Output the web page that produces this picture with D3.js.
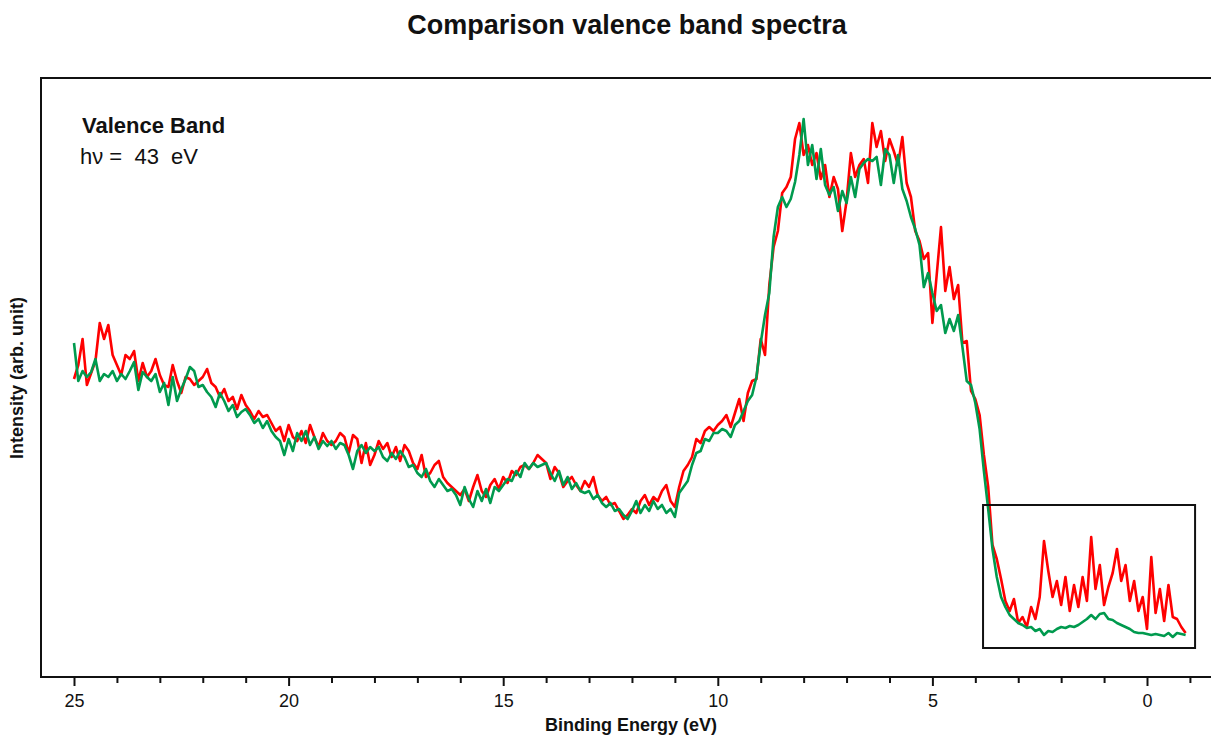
<!DOCTYPE html>
<html>
<head>
<meta charset="utf-8">
<script src="https://cdn.jsdelivr.net/npm/d3@7"></script>
<style>
  html, body { margin: 0; padding: 0; background: #fff; }
  svg { display: block; font-family: "Liberation Sans", Arial, sans-serif; }
</style>
</head>
<body>
<svg id="chart" width="1211" height="736"></svg>
<script>
// Spectra sampled on a uniform binding-energy grid: 25.0 eV downward in 0.1 eV steps
const startEnergy = 25.0;
const energyStep = 0.1;

// Sample A (red)
const redCounts = [
  298, 312, 338, 292, 304, 316, 354, 338, 352, 322,
  312, 302, 322, 318, 326, 296, 314, 300, 306, 318,
  302, 292, 290, 312, 296, 284, 300, 298, 292, 296,
  300, 308, 294, 290, 280, 288, 276, 280, 268, 282,
  272, 266, 258, 266, 260, 262, 254, 246, 250, 236,
  252, 240, 236, 246, 234, 252, 240, 230, 244, 236,
  232, 236, 244, 240, 224, 242, 238, 214, 234, 212,
  222, 236, 228, 234, 220, 230, 216, 232, 226, 214,
  208, 222, 200, 204, 212, 216, 200, 194, 190, 186,
  182, 188, 176, 190, 202, 186, 180, 192, 198, 188,
  200, 194, 206, 202, 210, 212, 208, 214, 222, 218,
  214, 198, 210, 204, 190, 196, 200, 192, 186, 196,
  190, 200, 182, 176, 180, 172, 174, 166, 158, 162,
  168, 164, 176, 182, 172, 180, 176, 186, 192, 176,
  170, 190, 206, 212, 220, 238, 234, 246, 250, 246,
  252, 256, 262, 250, 264, 278, 256, 284, 296, 298,
  338, 322, 392, 430, 446, 484, 490, 500, 538, 554,
  522, 532, 512, 524, 498, 512, 480, 500, 488, 446,
  476, 524, 500, 512, 518, 494, 554, 530, 546, 516,
  538, 526, 512, 540, 494, 480, 446, 436, 418, 424,
  354, 402, 450, 386, 410, 378, 392, 334, 336, 286,
  278, 262, 222, 190, 132, 118, 98, 76, 66, 78,
  54, 60, 50, 70, 58, 80, 136, 106, 80, 96,
  72, 100, 66, 92, 70, 100, 76, 140, 88, 112,
  72, 90, 104, 128, 96, 112, 76, 96, 66, 80,
  48, 120, 64, 88, 56, 92, 60, 58, 50, 44
];

// Sample B (green)
const greenCounts = [
  334, 296, 306, 300, 305, 318, 296, 303, 300, 306,
  296, 303, 298, 306, 315, 287, 305, 300, 296, 303,
  285, 294, 272, 300, 276, 288, 298, 310, 306, 290,
  292, 285, 280, 270, 284, 276, 266, 272, 260, 265,
  268, 262, 254, 258, 249, 256, 246, 240, 236, 222,
  238, 226, 244, 236, 246, 232, 240, 228, 236, 231,
  236, 228, 234, 232, 222, 208, 226, 232, 224, 230,
  226, 230, 220, 216, 224, 218, 226, 220, 210, 212,
  204, 200, 208, 196, 190, 198, 192, 186, 188, 182,
  172, 190, 178, 170, 186, 176, 188, 174, 190, 186,
  192, 198, 196, 206, 200, 214, 208, 214, 210, 212,
  214, 204, 196, 206, 192, 200, 188, 194, 186, 184,
  186, 178, 182, 174, 170, 174, 166, 168, 162, 158,
  166, 176, 164, 172, 166, 176, 168, 172, 164, 168,
  160, 184, 190, 196, 212, 224, 226, 238, 236, 244,
  244, 248, 246, 240, 252, 256, 266, 276, 282, 300,
  334, 362, 384, 440, 470, 480, 470, 478, 495, 522,
  558, 512, 532, 498, 528, 492, 482, 490, 466, 486,
  474, 500, 480, 508, 514, 518, 516, 520, 492, 528,
  522, 494, 522, 488, 476, 460, 448, 432, 390, 404,
  384, 366, 372, 344, 358, 346, 362, 330, 296, 292,
  274, 248, 206, 168, 128, 100, 80, 70, 62, 58,
  54, 52, 49, 50, 46, 48, 42, 46, 45, 48,
  50, 49, 51, 50, 52, 55, 58, 62, 58, 63,
  64, 58, 57, 54, 52, 50, 48, 45, 44, 44,
  43, 42, 43, 42, 41, 44, 40, 44, 43, 42
];

// Axis ticks (binding energy, eV)
const majorTicks = [25, 20, 15, 10, 5, 0];
const minorTicks = [24, 23, 22, 21, 19, 18, 17, 16, 14, 13, 12, 11, 9, 8, 7, 6, 4, 3, 2, 1, -1];

// Highlight box around the near-Fermi-level region
const insetEnergy = [3.82, -1.12];
const insetIntensity = [29, 172];

const svg = d3.select("#chart");
const W = 1211;
const frame = { left: 41, top: 78, bottom: 677 };

// Binding energy increases to the left
const x = d3.scaleLinear().domain([25, 0]).range([74, 1147]);
const y = d3.scaleLinear().domain([0, 600]).range([frame.bottom, 77]);

const toPoints = counts => counts.map((v, i) => ({
  e: startEnergy - i * energyStep,
  v
}));

const line = d3.line().x(d => x(d.e)).y(d => y(d.v));

// Plot frame (right edge runs past the page)
svg.append("rect")
  .attr("x", frame.left).attr("y", frame.top)
  .attr("width", W - frame.left + 20).attr("height", frame.bottom - frame.top)
  .attr("fill", "none").attr("stroke", "#111").attr("stroke-width", 2);

// X axis: labelled major ticks and unlabelled minor ticks
const majorAxis = d3.axisBottom(x).tickValues(majorTicks).tickSize(9).tickSizeOuter(0)
  .tickPadding(8).tickFormat(d3.format("d"));
const minorAxis = d3.axisBottom(x).tickValues(minorTicks).tickSize(6).tickSizeOuter(0)
  .tickFormat("");

const gMinor = svg.append("g").attr("transform", `translate(0,${frame.bottom})`).call(minorAxis);
const gMajor = svg.append("g").attr("transform", `translate(0,${frame.bottom})`).call(majorAxis);
[gMinor, gMajor].forEach(g => {
  g.select(".domain").remove();
  g.selectAll(".tick line").attr("stroke", "#111").attr("stroke-width", 2);
});
gMajor.selectAll(".tick text")
  .attr("fill", "#111")
  .style("font-size", "18px")
  .style("font-family", "'Liberation Sans', Arial, sans-serif");

// Spectra
svg.append("path")
  .datum(toPoints(redCounts))
  .attr("d", line)
  .attr("fill", "none").attr("stroke", "#ff0000")
  .attr("stroke-width", 2.6).attr("stroke-linejoin", "round");

svg.append("path")
  .datum(toPoints(greenCounts))
  .attr("d", line)
  .attr("fill", "none").attr("stroke", "#009a4e")
  .attr("stroke-width", 2.6).attr("stroke-linejoin", "round");

// Highlight box
svg.append("rect")
  .attr("x", x(insetEnergy[0]))
  .attr("y", y(insetIntensity[1]))
  .attr("width", x(insetEnergy[1]) - x(insetEnergy[0]))
  .attr("height", y(insetIntensity[0]) - y(insetIntensity[1]))
  .attr("fill", "none").attr("stroke", "#111").attr("stroke-width", 2);

// Titles and annotations
svg.append("text")
  .attr("x", 627).attr("y", 34)
  .attr("text-anchor", "middle")
  .style("font-size", "27px").style("font-weight", "bold").attr("fill", "#111")
  .text("Comparison valence band spectra");

svg.append("text")
  .attr("x", 82).attr("y", 133)
  .style("font-size", "22px").style("font-weight", "bold").attr("fill", "#111")
  .text("Valence Band");

svg.append("text")
  .attr("x", 80).attr("y", 164)
  .style("font-size", "22px").style("white-space", "pre").attr("fill", "#111")
  .text("h\u03BD =  43  eV");

svg.append("text")
  .attr("x", 631).attr("y", 731)
  .attr("text-anchor", "middle")
  .style("font-size", "18px").style("font-weight", "bold").attr("fill", "#111")
  .text("Binding Energy (eV)");

svg.append("text")
  .attr("transform", "translate(23,378) rotate(-90)")
  .attr("text-anchor", "middle")
  .style("font-size", "18px").style("font-weight", "bold").attr("fill", "#111")
  .text("Intensity (arb. unit)");
</script>
</body>
</html>
